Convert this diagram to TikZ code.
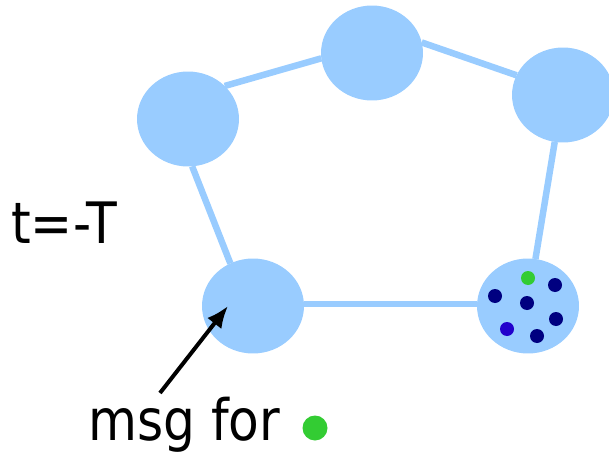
\documentclass[tikz,border=0pt]{standalone}
\usepackage{fontspec}
\setmainfont[FakeStretch=0.88]{DejaVu Sans}
\usepackage{tikz}
\usetikzlibrary{shapes.geometric, arrows.meta}
\definecolor{cellblue}{HTML}{99CCFF}
\definecolor{msgnavy}{HTML}{000080}
\definecolor{msgblue}{HTML}{2200CC}
\definecolor{msggreen}{HTML}{33CC33}
\tikzset{>=latex,
  peer/.style={ellipse, fill=cellblue, inner sep=0pt, outer sep=0pt,
    minimum width=2.04cm, minimum height=1.9cm},
  link/.style={cellblue, line width=0.13cm},
  label/.style={anchor=base west, font=\fontsize{32.5}{38}\selectfont}}

\begin{document}
\begin{tikzpicture}[x=0.02cm, y=-0.02cm]
 \useasboundingbox (0,0) rectangle (609,453);

 % the ring of peers
 \node[peer] (tl) at (188,119) {};
 \node[peer] (tm) at (372,53) {};
 \node[peer] (tr) at (563,95) {};
 \node[peer] (br) at (528,306) {};
 \node[peer] (bl) at (253,306) {};

 \draw[link] (tl.42) -- (tm.186);
 \draw[link] (tm.12) -- (tr.157);
 \draw[link] (tr.260) -- (br.81);
 \draw[link] (br.178) -- (bl.2);
 \draw[link] (bl.118) -- (tl.275);

 % messages held by the lower right peer
 \foreach \x/\y in {495/296, 527/303, 555/285, 556/319, 537/336}{
    \fill[msgnavy] (\x,\y) circle[radius=7];
 }
 \fill[msgblue] (507,329) circle[radius=7];
 \fill[msggreen] (528,278) circle[radius=7];

 \node[label] (clock) at (5,243) {t=-T};
 \node[label] (msg) at (82,440) {msg for};
 \fill[msggreen] (315,428) circle[radius=12.5];

 \coordinate (tail) at (160,393);
 \coordinate (tip) at (228,306);
 \draw[-{Latex[length=0.44cm, width=0.36cm]}, line width=0.08cm] (tail) -- (tip);

\end{tikzpicture}
\end{document}
